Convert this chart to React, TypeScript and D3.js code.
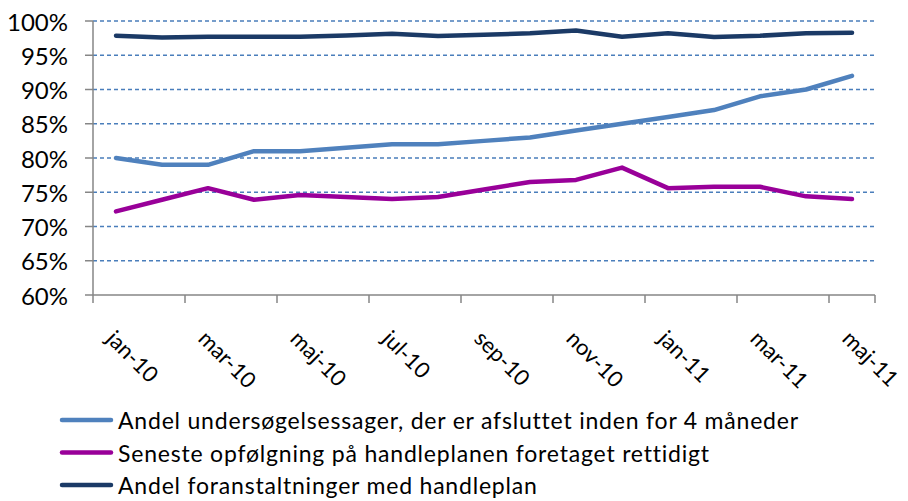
import React from "react";
import * as d3 from "d3";

const months = ["jan-10","feb-10","mar-10","apr-10","maj-10","jun-10","jul-10","aug-10","sep-10","okt-10","nov-10","dec-10","jan-11","feb-11","mar-11","apr-11","maj-11"];
const undersoegelse = [80,79,79,81,81,81.5,82,82,82.5,83,84,85,86,87,89,90,92];
const opfoelgning = [72.2,73.9,75.6,73.9,74.6,74.3,74.0,74.3,75.4,76.5,76.8,78.6,75.6,75.8,75.8,74.4,74.0];
const handleplan = [97.85,97.6,97.7,97.7,97.7,97.9,98.15,97.8,98.0,98.2,98.6,97.7,98.2,97.65,97.85,98.2,98.3];
const yTicks = [60,65,70,75,80,85,90,95,100];
const seriesNames = [
  "Andel undersøgelsessager, der er afsluttet inden for 4 måneder",
  "Seneste opfølgning på handleplanen foretaget rettidigt",
  "Andel foranstaltninger med handleplan",
];
const seriesColors = ["#4F81BD", "#990099", "#1B3A66"];

const W = 908, H = 501;
const left = 93, right = 875, top = 21, bottom = 295;
const FONT = "Lato, 'Open Sans', sans-serif";

export default function App() {
  const x = d3.scaleBand<string>().domain(months).range([left, right]).padding(0);
  const y = d3.scaleLinear().domain([60, 100]).range([bottom, top]);
  const cx = (m: string) => (x(m) as number) + x.bandwidth() / 2;
  const line = d3.line<number>().x((_, i) => cx(months[i])).y((v) => y(v));
  const series = [undersoegelse, opfoelgning, handleplan];
  const axisColor = "#868686";
  const tickXs = months.filter((_, i) => i % 2 === 0).map((m) => x(m) as number);
  tickXs.push(right);

  return (
    <svg width={W} height={H} style={{ position: "absolute", left: 0, top: 0, background: "#fff" }} fontFamily={FONT}>
      {yTicks.filter((t) => t > 60).map((t) => (
        <line key={"g" + t} x1={left} x2={right} y1={y(t)} y2={y(t)} stroke="#4A7EBB" strokeWidth={1.3} strokeDasharray="4,3" />
      ))}
      <line x1={left} x2={left} y1={top} y2={bottom} stroke={axisColor} strokeWidth={1.5} />
      <line x1={left} x2={right} y1={bottom} y2={bottom} stroke={axisColor} strokeWidth={1.5} />
      {yTicks.map((t) => (
        <g key={"yt" + t}>
          <line x1={left - 8} x2={left} y1={y(t)} y2={y(t)} stroke={axisColor} strokeWidth={1.5} />
          <text x={68} y={y(t)} textAnchor="end" dominantBaseline="central" fontSize={24} fill="#000">{t}%</text>
        </g>
      ))}
      {tickXs.map((tx, i) => (
        <line key={"xt" + i} x1={tx} x2={tx} y1={bottom} y2={bottom + 8} stroke={axisColor} strokeWidth={1.5} />
      ))}
      {months.map((m, i) => i % 2 === 0 ? (
        <text key={"xl" + m} transform={`translate(${cx(m) - 11},${340}) rotate(45)`} fontSize={22} fill="#000">{m}</text>
      ) : null)}
      {series.map((s, i) => (
        <path key={"s" + i} d={line(s) as string} fill="none" stroke={seriesColors[i]} strokeWidth={4.5} strokeLinejoin="round" strokeLinecap="round" />
      ))}
      {seriesNames.map((n, i) => (
        <g key={"lg" + i}>
          <line x1={62} x2={111} y1={420 + i * 32.5} y2={420 + i * 32.5} stroke={seriesColors[i]} strokeWidth={4.5} strokeLinecap="round" />
          <text x={118} y={420 + i * 32.5} dominantBaseline="central" fontSize={23} letterSpacing={0.8} fill="#000">{n}</text>
        </g>
      ))}
    </svg>
  );
}
